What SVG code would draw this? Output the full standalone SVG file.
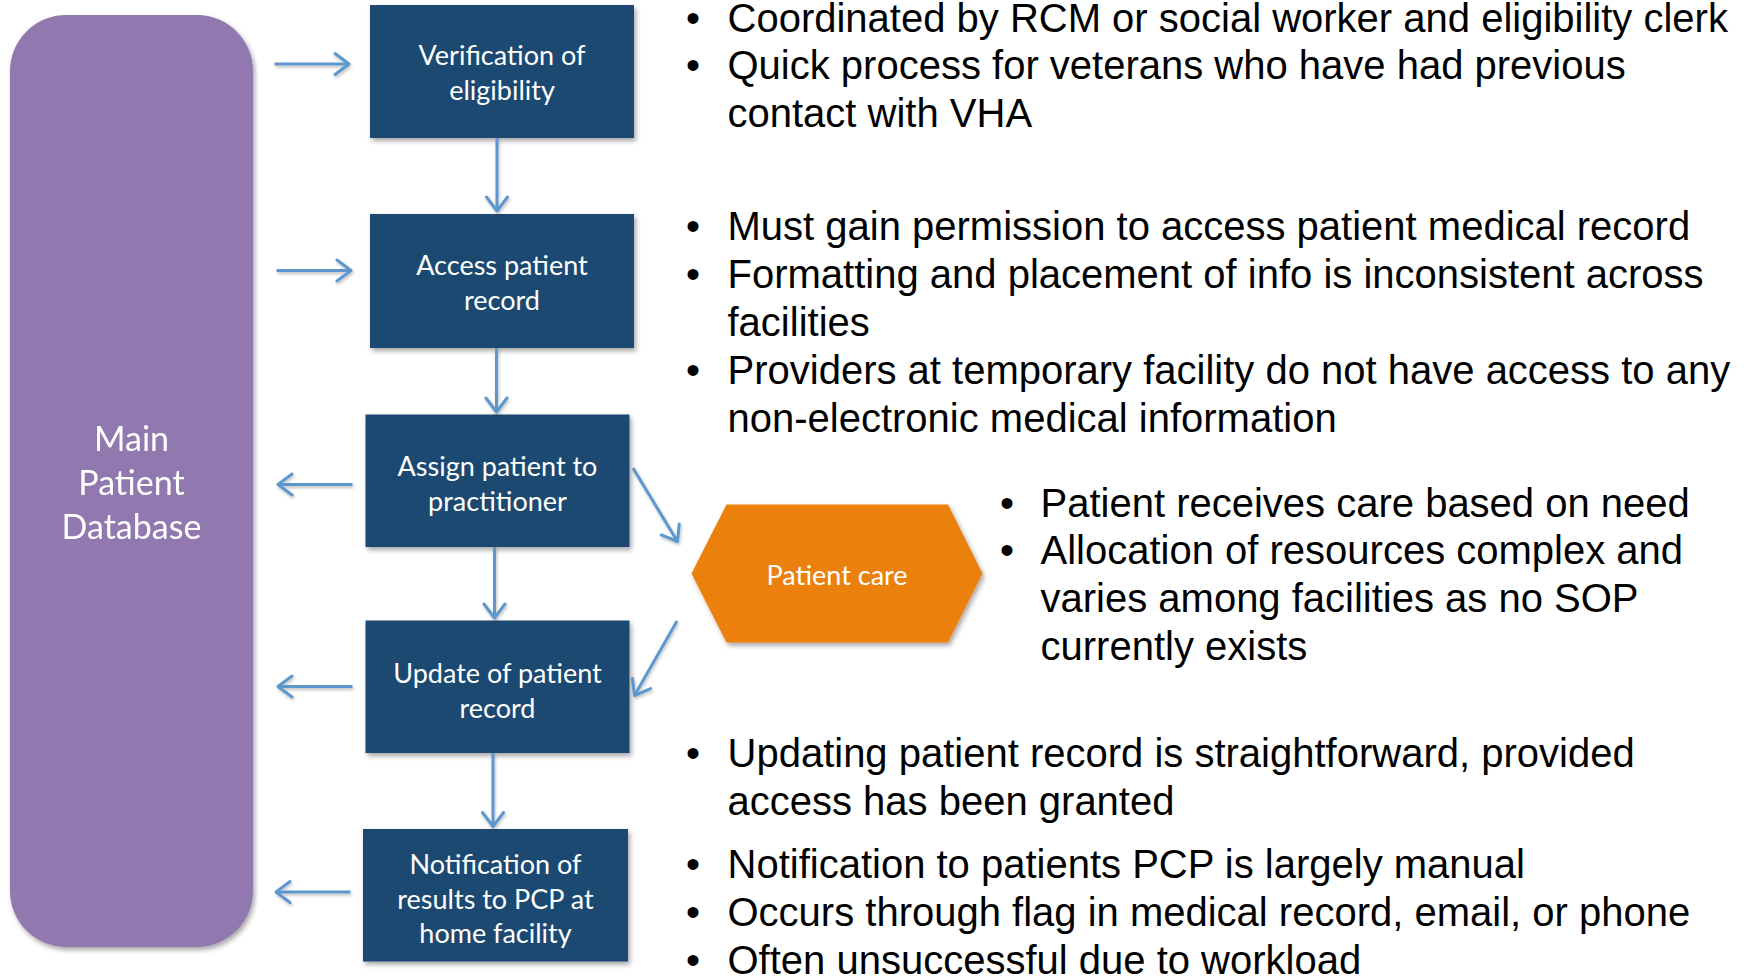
<svg xmlns="http://www.w3.org/2000/svg" width="1747" height="978" viewBox="0 0 1747 978">
  <style>
    .box { fill: #1F4871; }
    .db { fill: #9179AF; }
    .care { fill: #EB8008; }
    .lbl { font-family: Lato, "Open Sans", sans-serif; font-size: 27px; fill: #FFFFFF; text-anchor: middle; }
    .dblbl { font-family: Lato, "Open Sans", sans-serif; font-size: 34px; fill: #FFFFFF; text-anchor: middle; }
    .note { font-family: "Liberation Sans", Arial, sans-serif; font-size: 40px; fill: #000000; }
    .bul { font-family: "Liberation Sans", Arial, sans-serif; font-size: 40px; fill: #000000; text-anchor: middle; }
    .conn { fill: none; stroke: #5D97CE; stroke-width: 3; marker-end: url(#head); }
  </style>
  <defs>
    <filter id="shadow" x="-10%" y="-10%" width="130%" height="130%">
      <feDropShadow dx="2" dy="3" stdDeviation="2.5" flood-color="#000000" flood-opacity="0.35"/>
    </filter>
    <filter id="lshadow" x="-20%" y="-20%" width="140%" height="140%">
      <feDropShadow dx="1" dy="2" stdDeviation="1.5" flood-color="#000000" flood-opacity="0.25"/>
    </filter>
    <marker id="head" viewBox="-18 -13 21 26" markerWidth="21" markerHeight="26" refX="0" refY="0" orient="auto" markerUnits="userSpaceOnUse">
      <path d="M -14 -10.5 L 0 0 L -14 10.5" fill="none" stroke="#5D97CE" stroke-width="3" stroke-linecap="round" stroke-linejoin="round"/>
    </marker>
  </defs>

  <rect width="1747" height="978" fill="#FFFFFF"/>

  <!-- database column -->
  <g id="main-db" filter="url(#shadow)">
    <rect class="db" x="10" y="15" width="243" height="932" rx="56" ry="56"/>
    <text class="dblbl" x="131.5" y="451">Main</text>
    <text class="dblbl" x="131.5" y="495">Patient</text>
    <text class="dblbl" x="131.5" y="539">Database</text>
  </g>

  <!-- process steps -->
  <g id="step-verify">
    <rect class="box" x="370" y="5" width="264" height="133" filter="url(#shadow)"/>
    <text class="lbl" x="502" y="65">Verification of</text>
    <text class="lbl" x="502" y="100">eligibility</text>
  </g>
  <g id="step-access">
    <rect class="box" x="370" y="214" width="264" height="134" filter="url(#shadow)"/>
    <text class="lbl" x="502" y="275">Access patient</text>
    <text class="lbl" x="502" y="310">record</text>
  </g>
  <g id="step-assign">
    <rect class="box" x="365.5" y="414.5" width="264" height="132.5" filter="url(#shadow)"/>
    <text class="lbl" x="497.5" y="476">Assign patient to</text>
    <text class="lbl" x="497.5" y="511">practitioner</text>
  </g>
  <g id="step-update">
    <rect class="box" x="365.5" y="620.5" width="264" height="132.5" filter="url(#shadow)"/>
    <text class="lbl" x="497.5" y="683">Update of patient</text>
    <text class="lbl" x="497.5" y="718">record</text>
  </g>
  <g id="step-notify">
    <rect class="box" x="363" y="829" width="265" height="132.5" filter="url(#shadow)"/>
    <text class="lbl" x="495.5" y="874">Notification of</text>
    <text class="lbl" x="495.5" y="908.5">results to PCP at</text>
    <text class="lbl" x="495.5" y="943">home facility</text>
  </g>
  <g id="patient-care">
    <polygon class="care" points="691.5,573.5 726.5,504.5 948,504.5 982.5,573.5 948,642.5 726.5,642.5" filter="url(#shadow)"/>
    <text class="lbl" x="837" y="585">Patient care</text>
  </g>

  <!-- connectors -->
  <g id="connectors" filter="url(#lshadow)">
    <line class="conn" x1="274.5" y1="64" x2="349" y2="64"/>
    <line class="conn" x1="276.5" y1="270.5" x2="351" y2="270.5"/>
    <line class="conn" x1="352.5" y1="484.5" x2="278" y2="484.5"/>
    <line class="conn" x1="352.5" y1="686.5" x2="278" y2="686.5"/>
    <line class="conn" x1="350.5" y1="892" x2="276" y2="892"/>
    <line class="conn" x1="497" y1="138" x2="497" y2="211"/>
    <line class="conn" x1="496.5" y1="348" x2="496.5" y2="412"/>
    <line class="conn" x1="494.5" y1="547" x2="494.5" y2="618"/>
    <line class="conn" x1="493" y1="753" x2="493" y2="826.5"/>
    <line class="conn" x1="633" y1="468" x2="677.5" y2="541.5"/>
    <line class="conn" x1="677" y1="621" x2="634.5" y2="695.5"/>
  </g>

  <!-- notes -->
  <g id="notes-verify">
    <text class="bul" x="693" y="31.5">•</text>
    <text class="note" x="727.5" y="31.5">Coordinated by RCM or social worker and eligibility clerk</text>
    <text class="bul" x="693" y="79">•</text>
    <text class="note" x="727.5" y="79">Quick process for veterans who have had previous</text>
    <text class="note" x="727.5" y="127">contact with VHA</text>
  </g>
  <g id="notes-access">
    <text class="bul" x="693" y="240">•</text>
    <text class="note" x="727.5" y="240">Must gain permission to access patient medical record</text>
    <text class="bul" x="693" y="288">•</text>
    <text class="note" x="727.5" y="288">Formatting and placement of info is inconsistent across</text>
    <text class="note" x="727.5" y="336">facilities</text>
    <text class="bul" x="693" y="384">•</text>
    <text class="note" x="727.5" y="384">Providers at temporary facility do not have access to any</text>
    <text class="note" x="727.5" y="432">non-electronic medical information</text>
  </g>
  <g id="notes-care">
    <text class="bul" x="1007" y="517">•</text>
    <text class="note" x="1040.5" y="517">Patient receives care based on need</text>
    <text class="bul" x="1007" y="564">•</text>
    <text class="note" x="1040.5" y="564">Allocation of resources complex and</text>
    <text class="note" x="1040.5" y="612">varies among facilities as no SOP</text>
    <text class="note" x="1040.5" y="660">currently exists</text>
  </g>
  <g id="notes-update">
    <text class="bul" x="693" y="767">•</text>
    <text class="note" x="727.5" y="767">Updating patient record is straightforward, provided</text>
    <text class="note" x="727.5" y="815">access has been granted</text>
  </g>
  <g id="notes-notify">
    <text class="bul" x="693" y="878">•</text>
    <text class="note" x="727.5" y="878">Notification to patients PCP is largely manual</text>
    <text class="bul" x="693" y="926">•</text>
    <text class="note" x="727.5" y="926">Occurs through flag in medical record, email, or phone</text>
    <text class="bul" x="693" y="974">•</text>
    <text class="note" x="727.5" y="974">Often unsuccessful due to workload</text>
  </g>
</svg>
